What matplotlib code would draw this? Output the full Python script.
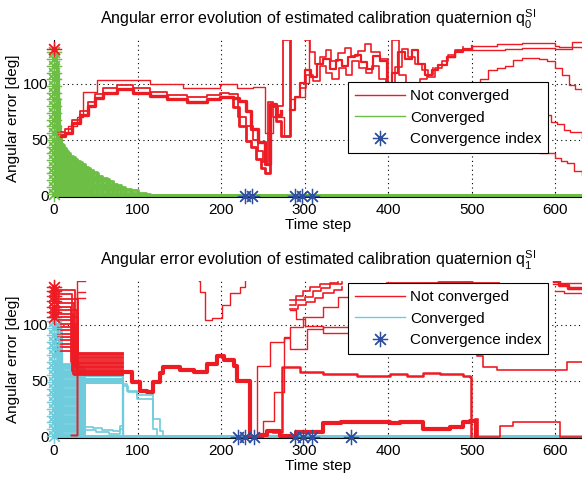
import matplotlib
matplotlib.use('Agg')
from matplotlib import pyplot as plt
from matplotlib.lines import Line2D

RED = '#ED1C24'
GREEN = '#6CBE45'
CYAN = '#6ECCDC'
BLUE = '#2E4FA0'

X_MAX = 632
Y_MAX = 139

# ---------------- panel q0 ----------------
P1_GREEN_LEVELS = [50, 48, 46, 45, 43, 41, 40, 38, 36, 35, 33, 31, 30, 28, 26, 25, 23, 21, 20, 18, 16, 15, 13, 11, 10, 8, 6, 5, 3, 2]
P1_GREEN_ENDS = [5, 8, 11, 12, 14, 16, 17, 19, 23, 25, 28, 31, 33, 37, 41, 43, 47, 51, 53, 58, 63, 66, 71, 76, 80, 85, 92, 100, 110, 115]
P1_GREEN_COL_LEVELS = [130, 126, 122, 118, 114, 110, 106, 102, 98, 94, 90, 86, 82, 78, 74, 70, 66, 62, 58, 54]
P1_GREEN_COL_ENDS = [3, 4, 3, 5, 4, 6, 3, 5, 4, 6, 5, 7, 4, 6, 5, 7, 6, 8, 7, 9]
P1_GREEN_STARS = [128, 122, 116, 110, 104, 98, 92, 86, 80, 74, 68, 62, 56, 50, 44, 38, 32, 26, 20, 14, 8, 2]
P1_RED_STARS = [131]
P1_CONV_IDX = [229, 237, 289, 297, 309]
P1_BLACK_ZERO = [(80, 119), (247, 270), (315, 416), (470, 614)]

p1_r1_x = [5, 13, 21, 31, 41, 49, 59, 75, 95, 115, 135, 159, 183, 199, 214, 222, 230, 236, 244, 252, 258, 266, 272]
p1_r1_y = [53, 56, 65, 72, 80, 87, 92, 95, 92, 89, 86, 84, 86, 88, 87, 85, 76, 60, 48, 28, 82, 72, 76]
p1_r2_x = [5, 17, 27, 35, 51, 91, 115, 155, 199, 219, 238, 252, 262, 275, 283, 289, 301, 305]
p1_r2_y = [55, 62, 70, 93, 103, 103, 100, 96, 100, 96, 97, 56, 70, 53, 86, 88, 101, 139]
p1_r3_x = [5, 13, 21, 31, 41, 49, 59, 75, 95, 115, 135, 159, 183, 199, 210, 220, 230, 238, 244, 250, 256, 262, 268, 274, 280]
p1_r3_y = [57, 60, 68, 76, 84, 91, 96, 99, 96, 93, 90, 88, 90, 92, 91, 70, 62, 50, 40, 30, 84, 70, 80, 139, 139]
p1_r4_x = [203, 214, 222, 230, 236, 242, 248, 252, 258, 266, 272, 282]
p1_r4_y = [88, 79, 62, 49, 44, 33, 25, 20, 80, 67, 53, 139]
p1_t1_x = [283, 289, 295, 301, 308, 315, 322, 330, 338, 345, 352, 360, 368, 375, 382, 390, 398, 405, 412, 420, 428, 436, 444, 452, 460, 470, 480, 490, 500]
p1_t1_y = [77, 88, 101, 112, 106, 118, 122, 113, 121, 116, 124, 126, 119, 113, 125, 120, 98, 110, 128, 122, 130, 118, 108, 112, 117, 124, 128, 131, 134]
p1_t2_x = [301, 306, 312, 318, 325, 332, 340, 348, 356, 364, 372, 380, 390, 400, 408, 416, 424, 432, 440, 448, 456, 464, 472, 480, 490]
p1_t2_y = [139, 128, 118, 124, 130, 120, 127, 132, 125, 129, 135, 128, 122, 94, 115, 131, 124, 118, 112, 106, 114, 120, 126, 130, 133]
p1_t3_x = [295, 302, 310, 318, 325, 333, 341, 349, 357, 365, 373, 381, 389, 397, 405, 413, 421, 430, 438, 446, 454]
p1_t3_y = [96, 108, 102, 116, 110, 104, 114, 108, 120, 114, 110, 116, 104, 95, 139, 108, 100, 96, 104, 108, 114]
p1_u1_x = [470, 480, 500, 530, 560, 600, 605, 632]
p1_u1_y = [124, 130, 134, 135, 136, 134, 133, 132]
p1_u2_x = [500, 540, 560, 600, 620, 632]
p1_u2_y = [130, 131, 132, 131, 137, 137]
p1_arc_x = [503, 510, 520, 530, 540, 550, 560, 570, 580, 590, 600, 608, 616, 624, 632]
p1_arc_y = [86, 104, 112, 114, 116, 121, 123, 123, 122, 120, 114, 108, 99, 95, 93]
p1_d1_x = [500, 560, 595, 602, 610, 618, 632]
p1_d1_y = [78, 72, 66, 64, 59, 57, 52]
p1_d2_x = [520, 580, 600, 607, 614, 622, 632]
p1_d2_y = [45, 38, 34, 31, 29, 22, 19]

# ---------------- panel q1 ----------------
P2_CYAN_COL_LEVELS = [103, 99, 95, 91, 87, 83, 79, 75, 71, 68]
P2_CYAN_COL_ENDS = [8, 6, 10, 7, 9, 5, 10, 8, 6, 9]
P2_CYAN_LEVELS = [65, 63, 61, 59, 57, 55, 53, 51, 49, 47, 45, 43, 41, 39, 37, 35, 33, 31, 29, 27, 25, 23, 21, 19, 17, 15, 13, 11, 9, 7, 5, 3, 1]
P2_CYAN_ENDS = [29, 31, 36, 29, 33, 36, 30, 34, 29, 32, 36, 30, 29, 33, 35, 29, 31, 36, 30, 34, 29, 33, 36, 29, 31, 35, 30, 29, 34, 36, 31, 29, 33]
P2_CYAN_BAND = [54, 52, 50, 48]
P2_CYAN_STARS = [103, 97, 91, 85, 79, 73, 67, 61, 55, 49, 43, 37, 31, 25, 19, 13, 7, 1]
P2_RED_STARS = [134, 130, 126, 121, 116, 111, 107]
P2_CONV_IDX = [220, 229, 239, 289, 298, 309, 355]
P2_BLACK_ZERO = [(55, 83)]

P2_RED_COL_LEVELS = [131, 127, 123, 119, 116, 113, 110, 107, 104, 101, 98, 95, 92, 89, 86, 83, 80, 77]
P2_RED_COL_ENDS = [25, 22, 29, 24, 20, 27, 23, 29, 21, 26, 24, 28, 22, 27, 25, 29, 23, 28]
P2_RED_BAND = [75, 73, 71, 69, 67, 65, 63, 61, 59, 57, 55, 74, 70, 66, 62, 58, 56, 60]
P2_RED_TOP = [139, 129, 124]

p2_c1_x = [83, 89, 99, 117, 119, 127, 131]
p2_c1_y = [45, 40, 37, 38, 16, 5, 0]
p2_c2_x = [83, 87, 99, 111, 119, 123]
p2_c2_y = [47, 41, 34, 34, 7, 0]
p2_c3_x = [37, 47, 57, 71, 79, 83, 90]
p2_c3_y = [9, 8, 6, 5, 10, 0, 0]
p2_c4_x = [29, 37, 50, 66, 79, 83, 90]
p2_c4_y = [47, 6, 4, 3, 7, 0, 0]

p2_m_x = [83, 93, 103, 111, 119, 127, 131, 151, 167, 183, 195, 203, 215, 219, 235, 245, 255, 271, 290, 322, 343, 402, 414, 442, 474, 490, 498, 505]
p2_m_y = [58, 49, 41, 40, 49, 57, 62, 60, 58, 65, 72, 69, 63, 50, 0, 2, 5, 1, 4, 12, 13, 12, 13, 7, 9, 13, 14, 0]
p2_n_x = [262, 273, 283, 295, 322, 363, 402, 422, 442, 462, 490, 498, 499]
p2_n_y = [4, 62, 62, 58, 56, 54, 56, 54, 57, 56, 54, 53, 0]
p2_p_x = [498, 506, 514, 530, 602, 614, 632]
p2_p_y = [78, 72, 62, 60, 60, 67, 67]
p2_q_x = [498, 504, 507, 534, 550, 602, 606, 632]
p2_q_y = [14, 16, 0, 10, 13, 13, 0, 0]
p2_dip_x = [173, 175, 181, 189, 201, 211, 223, 229]
p2_dip_y = [139, 129, 104, 106, 118, 128, 134, 139]
p2_r1_x = [243, 250, 263, 275, 283, 298, 322, 340, 360, 380, 400, 414, 440, 460, 490, 500]
p2_r1_y = [0, 14, 40, 89, 98, 107, 116, 125, 129, 131, 134, 136, 137, 137, 138, 138]
p2_r2_x = [235, 243, 259, 275, 283, 303, 322, 363, 402, 414, 440, 462, 490]
p2_r2_y = [0, 63, 85, 88, 78, 96, 98, 93, 95, 102, 110, 118, 122]
p2_v1_x = [283, 290, 300, 310, 320, 330, 345]
p2_v1_y = [118, 122, 125, 130, 133, 136, 138]
p2_v2_x = [283, 292, 302, 312, 322, 335, 345]
p2_v2_y = [114, 118, 120, 124, 128, 131, 134]
p2_v3_x = [283, 290, 298, 306, 318, 330, 340]
p2_v3_y = [122, 126, 130, 134, 136, 137, 138]
p2_v4_x = [283, 290, 300, 322, 363, 380, 414, 440, 462, 490]
p2_v4_y = [113, 105, 99, 93, 93, 96, 102, 108, 115, 122]
p2_v5_x = [399, 420, 460, 500, 532]
p2_v5_y = [137, 137, 138, 137, 137]
p2_w1_x = [598, 605, 615, 632]
p2_w1_y = [139, 135, 133, 133]
p2_w2_x = [600, 610, 632]
p2_w2_y = [130, 128, 128]
p2_w3_x = [597, 605, 632]
p2_w3_y = [136, 137, 137]

plt.rcParams['font.family'] = ['Liberation Sans', 'DejaVu Sans']
plt.rcParams['mathtext.fontset'] = 'custom'
plt.rcParams['mathtext.rm'] = 'Liberation Sans'
plt.rcParams['mathtext.it'] = 'Liberation Sans'

STAR = (8, 2, 0)


def step(ax, xs, ys, c, lw=1.0):
    ax.step(xs, ys, where='post', color=c, lw=lw)


def stairs(ax, levels, ends, c, lw):
    for L, E in zip(levels, ends):
        ax.step([0, E, X_MAX], [L, 0, 0], where='post', color=c, lw=lw)


def stars(ax, xs, ys, c, z=4):
    ax.plot(xs, ys, ls='none', marker=STAR, color=c, ms=11, mew=0.9, clip_on=False, zorder=z)


def setup(ax, title):
    ax.set_xlim(0, X_MAX)
    ax.set_ylim(-1, Y_MAX)
    ax.set_xticks([0, 100, 200, 300, 400, 500, 600])
    ax.set_yticks([0, 50, 100])
    ax.spines['top'].set_visible(False)
    ax.spines['right'].set_visible(False)
    ax.tick_params(direction='in', length=3, labelsize=11, pad=4)
    ax.grid(True, color='black', linestyle=(0, (1, 3)), lw=0.8)
    ax.set_axisbelow(True)
    ax.set_xlabel('Time step', fontsize=11, labelpad=1)
    ax.set_ylabel('Angular error [deg]', fontsize=11, labelpad=2)
    ax.set_title(title, fontsize=11.5, pad=11)


def legend(ax, conv_color, top):
    handles = [Line2D([], [], color=RED, lw=1.0),
               Line2D([], [], color=conv_color, lw=1.0),
               Line2D([], [], color=BLUE, lw=0, marker=STAR, markersize=11, markeredgewidth=0.9)]
    lg = ax.legend(handles, ['Not converged', 'Converged', 'Convergence index'],
                   loc='upper left', bbox_to_anchor=(0.557, top), borderaxespad=0,
                   fontsize=11, handlelength=3.3, handletextpad=0.3,
                   fancybox=False, framealpha=1, edgecolor='black',
                   borderpad=0.45, labelspacing=0.5)
    lg.get_frame().set_linewidth(0.8)
    lg.set_zorder(20)


fig = plt.figure(figsize=(5.82, 4.8), dpi=100)
ax1 = fig.add_axes([54 / 582, 1 - 197 / 480, 1 - 54 / 582, 157 / 480])
ax2 = fig.add_axes([54 / 582, 1 - 438 / 480, 1 - 54 / 582, 157 / 480])

# panel 1
for a, b in P1_BLACK_ZERO:
    ax1.plot([a, b], [-0.3, -0.3], color='black', lw=1.6)
ax1.plot([0, X_MAX], [0.4, 0.4], color=GREEN, lw=1.4)
stairs(ax1, P1_GREEN_LEVELS, P1_GREEN_ENDS, GREEN, 2.0)
stairs(ax1, P1_GREEN_COL_LEVELS, P1_GREEN_COL_ENDS, GREEN, 1.5)
stars(ax1, [0] * len(P1_GREEN_STARS), P1_GREEN_STARS, GREEN)
for xs, ys, w in [(p1_r1_x, p1_r1_y, 2.4), (p1_r2_x, p1_r2_y, 1.0), (p1_r3_x, p1_r3_y, 1.3),
                  (p1_r4_x, p1_r4_y, 2.0), (p1_t1_x, p1_t1_y, 1.6), (p1_t2_x, p1_t2_y, 1.2),
                  (p1_t3_x, p1_t3_y, 1.2), (p1_u1_x, p1_u1_y, 1.0), (p1_u2_x, p1_u2_y, 1.0),
                  (p1_arc_x, p1_arc_y, 1.0), (p1_d1_x, p1_d1_y, 1.0), (p1_d2_x, p1_d2_y, 1.0)]:
    step(ax1, xs, ys, RED, w)
stars(ax1, [0] * len(P1_RED_STARS), P1_RED_STARS, RED)
stars(ax1, P1_CONV_IDX, [0] * len(P1_CONV_IDX), BLUE, 5)
setup(ax1, 'Angular error evolution of estimated calibration quaternion $q_0^{SI}$')
legend(ax1, GREEN, (197 - 82) / 157)

# panel 2
for a, b in P2_BLACK_ZERO:
    ax2.plot([a, b], [-0.3, -0.3], color='black', lw=1.6)
ax2.plot([0, X_MAX], [0.4, 0.4], color=CYAN, lw=1.4)
stairs(ax2, P2_CYAN_LEVELS, P2_CYAN_ENDS, CYAN, 2.0)
stairs(ax2, P2_CYAN_COL_LEVELS, P2_CYAN_COL_ENDS, CYAN, 1.5)
for L in P2_CYAN_BAND:
    ax2.step([29, 83, 90], [L, 0, 0], where='post', color=CYAN, lw=1.5)
for xs, ys in [(p2_c1_x, p2_c1_y), (p2_c2_x, p2_c2_y), (p2_c3_x, p2_c3_y), (p2_c4_x, p2_c4_y)]:
    step(ax2, xs, ys, CYAN, 1.2)
stars(ax2, [0] * len(P2_CYAN_STARS), P2_CYAN_STARS, CYAN)
for L, E, B in zip(P2_RED_COL_LEVELS, P2_RED_COL_ENDS, P2_RED_BAND):
    ax2.step([0, E, 83], [L, B, B], where='post', color=RED, lw=1.3)
for L in P2_RED_TOP:
    ax2.step([20, 28, 37], [2, L, L], where='post', color=RED, lw=1.0)
for xs, ys, w in [(p2_m_x, p2_m_y, 3.0), (p2_n_x, p2_n_y, 1.8), (p2_p_x, p2_p_y, 1.2),
                  (p2_q_x, p2_q_y, 1.2), (p2_dip_x, p2_dip_y, 1.0), (p2_r1_x, p2_r1_y, 1.0),
                  (p2_r2_x, p2_r2_y, 1.0), (p2_v1_x, p2_v1_y, 1.2), (p2_v2_x, p2_v2_y, 1.2),
                  (p2_v3_x, p2_v3_y, 1.2), (p2_v4_x, p2_v4_y, 1.0), (p2_v5_x, p2_v5_y, 2.0),
                  (p2_w1_x, p2_w1_y, 2.5), (p2_w2_x, p2_w2_y, 1.0), (p2_w3_x, p2_w3_y, 1.0)]:
    step(ax2, xs, ys, RED, w)
stars(ax2, [0] * len(P2_RED_STARS), P2_RED_STARS, RED)
stars(ax2, P2_CONV_IDX, [0] * len(P2_CONV_IDX), BLUE, 5)
setup(ax2, 'Angular error evolution of estimated calibration quaternion $q_1^{SI}$')
legend(ax2, CYAN, (438 - 283) / 157)

fig.savefig('out.png', dpi=100)
